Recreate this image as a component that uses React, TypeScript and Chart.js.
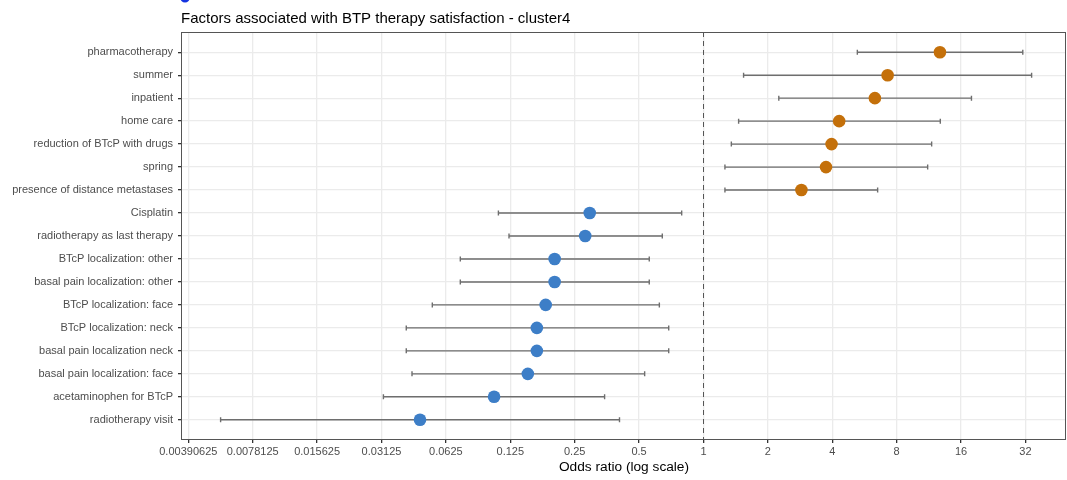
import React, { useEffect, useRef } from "react";
import { Chart, registerables } from "chart.js";

Chart.register(...registerables);

// Factors, top to bottom
const factors = [
  "pharmacotherapy",
  "summer",
  "inpatient",
  "home care",
  "reduction of BTcP with drugs",
  "spring",
  "presence of distance metastases",
  "Cisplatin",
  "radiotherapy as last therapy",
  "BTcP localization: other",
  "basal pain localization: other",
  "BTcP localization: face",
  "BTcP localization: neck",
  "basal pain localization neck",
  "basal pain localization: face",
  "acetaminophen for BTcP",
  "radiotherapy visit",
];

// Odds ratios with 95% confidence limits
const oddsRatio = [
  12.75, 7.26, 6.33, 4.31, 3.97, 3.74, 2.87,
  0.294, 0.28, 0.2015, 0.2015, 0.183, 0.1664, 0.1664, 0.151, 0.105, 0.0473,
];
const ciLower = [
  5.24, 1.54, 2.25, 1.46, 1.35, 1.26, 1.26,
  0.11, 0.1233, 0.073, 0.073, 0.054, 0.0408, 0.0408, 0.0434, 0.0319, 0.00553,
];
const ciUpper = [
  31.1, 34.2, 17.9, 12.8, 11.66, 11.17, 6.52,
  0.791, 0.642, 0.558, 0.558, 0.622, 0.688, 0.688, 0.531, 0.345, 0.405,
];

// Powers of two on the log axis
const xTickValues = [
  0.00390625, 0.0078125, 0.015625, 0.03125, 0.0625, 0.125, 0.25, 0.5,
  1, 2, 4, 8, 16, 32,
];
const xTickLabels = [
  "0.00390625", "0.0078125", "0.015625", "0.03125", "0.0625", "0.125",
  "0.25", "0.5", "1", "2", "4", "8", "16", "32",
];

const FONT = "'Liberation Sans', Arial, Helvetica, sans-serif";
const POS_COLOR = "#C4700A";
const NEG_COLOR = "#3D7EC7";
const CHART_TITLE = "Factors associated with BTP therapy satisfaction - cluster4";

const forestPlugin = {
  id: "forest",
  beforeDatasetsDraw(chart: any) {
    const { ctx, chartArea, scales } = chart;
    const x = scales.x;
    const y = scales.y;
    ctx.save();

    // reference line at OR = 1
    const x1 = Math.round(x.getPixelForValue(1)) + 0.5;
    ctx.strokeStyle = "#555555";
    ctx.lineWidth = 1;
    ctx.setLineDash([5, 4]);
    ctx.beginPath();
    ctx.moveTo(x1, chartArea.top);
    ctx.lineTo(x1, chartArea.bottom);
    ctx.stroke();
    ctx.setLineDash([]);

    // confidence interval whiskers
    ctx.strokeStyle = "#6e6e6e";
    ctx.lineWidth = 1.4;
    factors.forEach((_, i) => {
      const yp = y.getPixelForValue(i);
      const xl = x.getPixelForValue(ciLower[i]);
      const xu = x.getPixelForValue(ciUpper[i]);
      ctx.beginPath();
      ctx.moveTo(xl, yp);
      ctx.lineTo(xu, yp);
      ctx.moveTo(xl, yp - 2.5);
      ctx.lineTo(xl, yp + 2.5);
      ctx.moveTo(xu, yp - 2.5);
      ctx.lineTo(xu, yp + 2.5);
      ctx.stroke();
    });

    // panel border
    ctx.strokeStyle = "#555555";
    ctx.lineWidth = 1;
    ctx.strokeRect(
      chartArea.left - 0.5,
      chartArea.top + 0.5,
      chartArea.right - chartArea.left,
      chartArea.bottom - chartArea.top - 1
    );
    ctx.restore();
  },
  afterDraw(chart: any) {
    const { ctx, chartArea } = chart;
    ctx.save();
    // small marker above the title
    ctx.fillStyle = "#1433E0";
    ctx.beginPath();
    ctx.ellipse(chartArea.left + 3, -3, 5, 5.5, 0, 0, Math.PI * 2);
    ctx.fill();
    // title
    ctx.fillStyle = "#000000";
    ctx.font = `15px ${FONT}`;
    ctx.textAlign = "left";
    ctx.textBaseline = "alphabetic";
    ctx.fillText(CHART_TITLE, chartArea.left - 1, 22.5);
    ctx.restore();
  },
};

export default function App() {
  const canvasRef = useRef<HTMLCanvasElement | null>(null);

  useEffect(() => {
    if (!canvasRef.current) return;
    Chart.defaults.font.family = FONT;

    const chart = new Chart(canvasRef.current, {
      type: "scatter",
      data: {
        datasets: [
          {
            data: factors.map((_, i) => ({ x: oddsRatio[i], y: i })),
            pointBackgroundColor: oddsRatio.map((v) => (v > 1 ? POS_COLOR : NEG_COLOR)),
            pointBorderColor: oddsRatio.map((v) => (v > 1 ? POS_COLOR : NEG_COLOR)),
            pointBorderWidth: 0,
            pointRadius: 6.3,
            pointHoverRadius: 6.3,
          },
        ],
      },
      options: {
        responsive: false,
        animation: false,
        events: [],
        layout: { autoPadding: false, padding: { top: 32, left: 0, right: 1, bottom: 0 } },
        plugins: {
          legend: { display: false },
          title: { display: false },
          tooltip: { enabled: false },
        },
        scales: {
          x: {
            type: "logarithmic",
            bounds: "data",
            min: Math.pow(2, -8.098),
            max: Math.pow(2, 5.63),
            afterBuildTicks: (s: any) => {
              s.ticks = xTickValues.map((v) => ({ value: v }));
            },
            afterFit: (s: any) => {
              s.height = 40;
              s.paddingLeft = 0;
              s.paddingRight = 0;
            },
            ticks: {
              autoSkip: false,
              maxRotation: 0,
              minRotation: 0,
              padding: 2,
              color: "#4d4d4d",
              font: { family: FONT, size: 11 },
              callback: (_v: any, i: number) => xTickLabels[i],
            },
            grid: {
              color: "#ebebeb",
              lineWidth: 1.3,
              tickColor: "#333333",
              tickLength: 3,
              drawTicks: true,
            },
            border: { display: false },
            title: {
              display: true,
              text: "Odds ratio (log scale)",
              color: "#000000",
              font: { family: FONT, size: 13.7 },
              padding: { top: 0, bottom: 5 },
            },
          },
          y: {
            type: "linear",
            reverse: true,
            bounds: "data",
            min: -0.88,
            max: 16.88,
            afterBuildTicks: (s: any) => {
              s.ticks = factors.map((_, i) => ({ value: i }));
            },
            afterFit: (s: any) => {
              s.width = 182;
              s.paddingTop = 0;
              s.paddingBottom = 0;
            },
            ticks: {
              autoSkip: false,
              padding: 5,
              color: "#4d4d4d",
              font: { family: FONT, size: 11 },
              callback: (v: any) => factors[v] ?? "",
            },
            grid: {
              color: "#ebebeb",
              lineWidth: 1.3,
              tickColor: "#333333",
              tickLength: 4,
              drawTicks: true,
            },
            border: { display: false },
          },
        },
      },
      plugins: [forestPlugin],
    });

    return () => chart.destroy();
  }, []);

  return (
    <div style={{ position: "fixed", left: 0, top: 0, width: 1067, height: 480, background: "#ffffff" }}>
      <canvas ref={canvasRef} width={1067} height={480} style={{ display: "block" }} />
    </div>
  );
}
